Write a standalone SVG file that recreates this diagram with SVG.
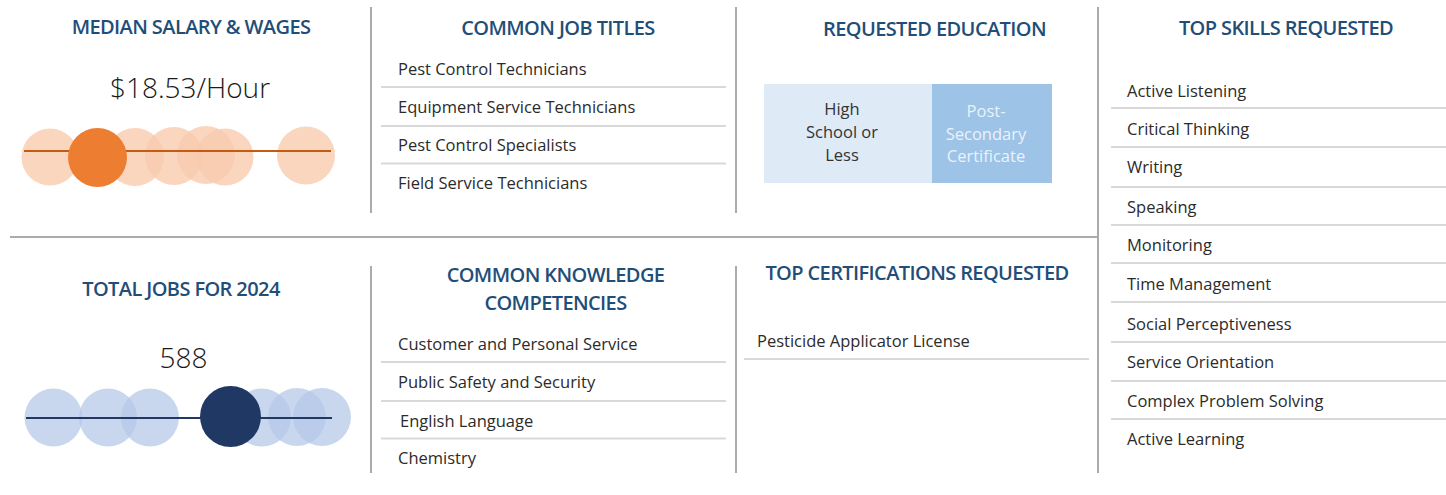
<svg xmlns="http://www.w3.org/2000/svg" width="1446" height="495" viewBox="0 0 1446 495">
<defs>
<style>
.title{font-family:"Open Sans","Liberation Sans",sans-serif;font-size:20px;font-weight:600;fill:#1F4E79;text-anchor:middle;letter-spacing:-0.6px}
.item{font-family:"Open Sans","Liberation Sans",sans-serif;font-size:16.5px;fill:#2b2b2b}
.big{font-family:"Open Sans","Liberation Sans",sans-serif;font-size:28px;font-weight:300;fill:#1a1a1a;text-anchor:middle}
.edu{font-family:"Open Sans","Liberation Sans",sans-serif;font-size:16.5px;text-anchor:middle}
.sep{stroke:#D9D9D9;stroke-width:2}
.frame{stroke:#ABABAB;stroke-width:2}
.lo{fill:#F8CBAD;opacity:0.78}
.lb{fill:#B4C7E7;opacity:0.72}
</style>
</defs>
<rect width="1446" height="495" fill="#ffffff"/>

<g id="connectors">
<line class="frame" x1="10" y1="237" x2="1098" y2="237"/>
<line class="frame" x1="371" y1="7" x2="371" y2="213"/>
<line class="frame" x1="736" y1="7" x2="736" y2="213"/>
<line class="frame" x1="371" y1="266" x2="371" y2="473"/>
<line class="frame" x1="736" y1="266" x2="736" y2="473"/>
<line class="frame" x1="1098" y1="7" x2="1098" y2="473"/>
</g>

<g id="median-salary">
<text class="title" x="191" y="34">MEDIAN SALARY &amp; WAGES</text>
<text class="big" x="190" y="98">$18.53/Hour</text>
<circle class="lo" cx="50" cy="157" r="28.5"/>
<circle class="lo" cx="135" cy="157" r="29"/>
<circle class="lo" cx="174" cy="156" r="29"/>
<circle class="lo" cx="206" cy="155" r="29"/>
<circle class="lo" cx="225" cy="157" r="28.5"/>
<circle class="lo" cx="306" cy="155.5" r="29"/>
<line x1="24" y1="151" x2="331" y2="151" stroke="#C55A11" stroke-width="2"/>
<circle cx="97.5" cy="157.5" r="29.5" fill="#ED7D31"/>
</g>

<g id="total-jobs">
<text class="title" x="181" y="296">TOTAL JOBS FOR 2024</text>
<text class="big" x="183.5" y="368">588</text>
<circle class="lb" cx="53.5" cy="417.5" r="29"/>
<circle class="lb" cx="108" cy="417.5" r="29"/>
<circle class="lb" cx="150" cy="417.5" r="29"/>
<circle class="lb" cx="262" cy="417.5" r="29"/>
<circle class="lb" cx="297" cy="417" r="29"/>
<circle class="lb" cx="322" cy="417" r="29"/>
<line x1="26" y1="418" x2="332" y2="418" stroke="#203864" stroke-width="2"/>
<circle cx="230.5" cy="416.5" r="30.5" fill="#203864"/>
</g>

<g id="job-titles">
<text class="title" x="558" y="35">COMMON JOB TITLES</text>
<text class="item" x="398" y="75">Pest Control Technicians</text>
<line class="sep" x1="381" y1="87" x2="726" y2="87"/>
<text class="item" x="398" y="113">Equipment Service Technicians</text>
<line class="sep" x1="381" y1="126" x2="726" y2="126"/>
<text class="item" x="398" y="151">Pest Control Specialists</text>
<line class="sep" x1="381" y1="163.5" x2="726" y2="163.5" stroke-width="1"/>
<text class="item" x="398" y="189">Field Service Technicians</text>
</g>

<g id="education">
<text class="title" x="934.5" y="36">REQUESTED EDUCATION</text>
<rect x="764" y="84" width="168" height="99" fill="#DEEBF7"/>
<rect x="932" y="84" width="120" height="99" fill="#9DC3E6"/>
<text class="edu" fill="#333333"><tspan x="842" y="115">High</tspan><tspan x="842" y="138">School or</tspan><tspan x="842" y="161">Less</tspan></text>
<text class="edu" fill="#EAF2FA"><tspan x="986" y="117">Post-</tspan><tspan x="986" y="140">Secondary</tspan><tspan x="986" y="162">Certificate</tspan></text>
</g>

<g id="knowledge">
<text class="title"><tspan x="555.5" y="282">COMMON KNOWLEDGE</tspan><tspan x="555.5" y="310">COMPETENCIES</tspan></text>
<text class="item" x="398" y="350">Customer and Personal Service</text>
<line class="sep" x1="381" y1="362" x2="726" y2="362"/>
<text class="item" x="398" y="388">Public Safety and Security</text>
<line class="sep" x1="381" y1="401" x2="726" y2="401"/>
<text class="item" x="400" y="427">English Language</text>
<line class="sep" x1="381" y1="438.5" x2="726" y2="438.5" stroke-width="1"/>
<text class="item" x="398" y="464">Chemistry</text>
</g>

<g id="certifications">
<text class="title" x="917" y="280">TOP CERTIFICATIONS REQUESTED</text>
<text class="item" x="757" y="347">Pesticide Applicator License</text>
<line class="sep" x1="744" y1="359" x2="1089" y2="359"/>
</g>

<g id="skills">
<text class="title" x="1286" y="35">TOP SKILLS REQUESTED</text>
<text class="item" x="1127" y="97">Active Listening</text>
<line class="sep" x1="1111" y1="108" x2="1446" y2="108"/>
<text class="item" x="1127" y="135">Critical Thinking</text>
<line class="sep" x1="1111" y1="147" x2="1446" y2="147"/>
<text class="item" x="1127" y="173">Writing</text>
<line class="sep" x1="1111" y1="187" x2="1446" y2="187"/>
<text class="item" x="1127" y="213">Speaking</text>
<line class="sep" x1="1111" y1="225" x2="1446" y2="225"/>
<text class="item" x="1127" y="251">Monitoring</text>
<line class="sep" x1="1111" y1="263" x2="1446" y2="263"/>
<text class="item" x="1127" y="290">Time Management</text>
<line class="sep" x1="1111" y1="302" x2="1446" y2="302"/>
<text class="item" x="1127" y="330">Social Perceptiveness</text>
<line class="sep" x1="1111" y1="342" x2="1446" y2="342"/>
<text class="item" x="1127" y="368">Service Orientation</text>
<line class="sep" x1="1111" y1="381" x2="1446" y2="381"/>
<text class="item" x="1127" y="407">Complex Problem Solving</text>
<line class="sep" x1="1111" y1="419" x2="1446" y2="419"/>
<text class="item" x="1127" y="445">Active Learning</text>
</g>
</svg>
